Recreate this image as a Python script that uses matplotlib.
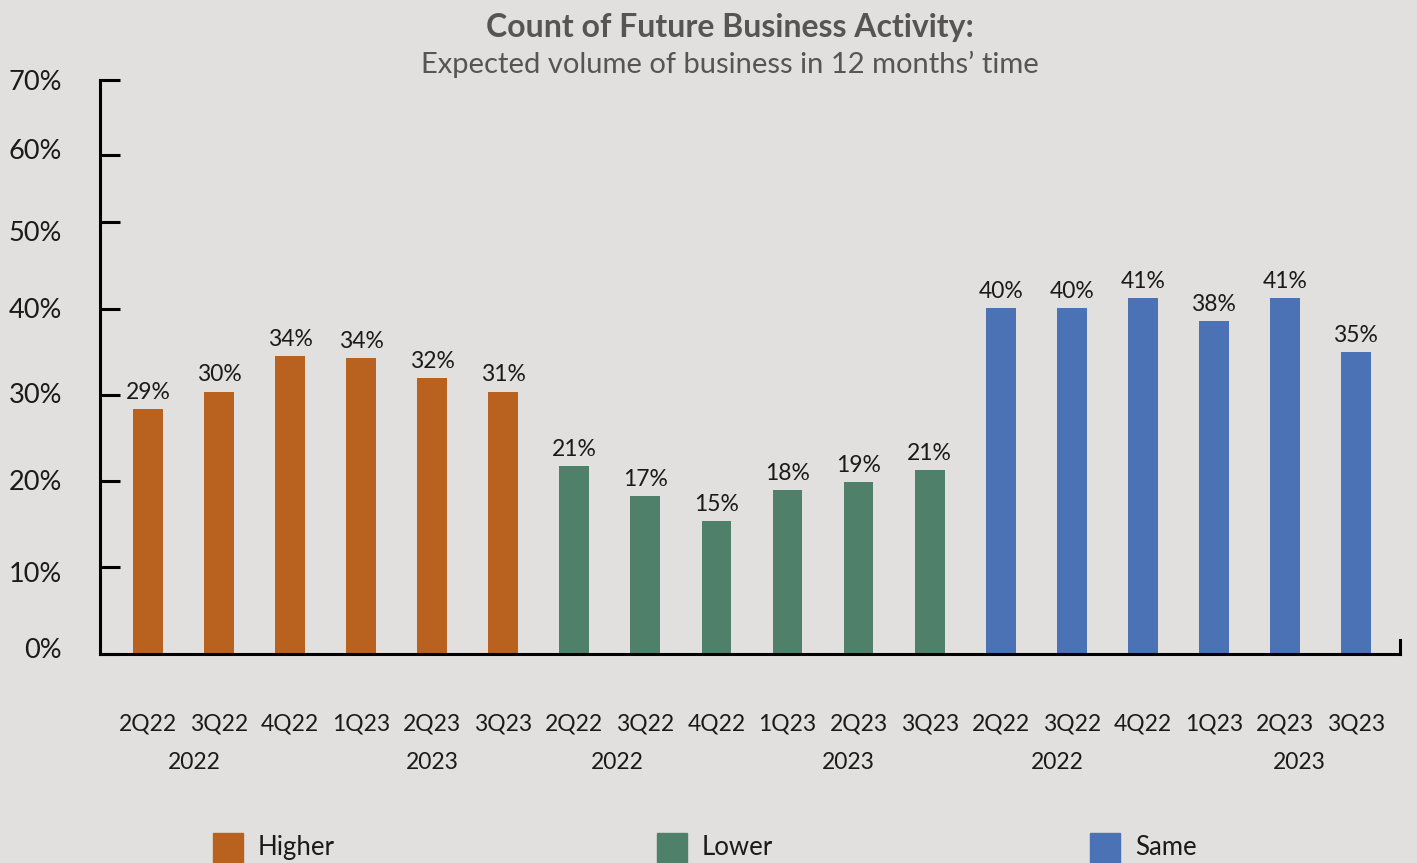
import matplotlib.pyplot as plt
from matplotlib.patches import Rectangle

# bar heights (percent), and the printed labels
higher = [28.4, 30.4, 34.5, 34.3, 32.0, 30.4]
lower = [21.8, 18.3, 15.4, 19.0, 19.9, 21.3]
same = [40.1, 40.1, 41.25, 38.6, 41.25, 35.0]
higher_lbl = ['29%', '30%', '34%', '34%', '32%', '31%']
lower_lbl = ['21%', '17%', '15%', '18%', '19%', '21%']
same_lbl = ['40%', '40%', '41%', '38%', '41%', '35%']

quarters = ['2Q22', '3Q22', '4Q22', '1Q23', '2Q23', '3Q23']
years = ['2022', '2023']
year_pos = [0.65, 4.0, 6.6, 9.85, 12.8, 16.2]

# the source axis is not evenly spaced at the top
ytick_pos = [0, 10.08, 20.05, 30.0, 40.0, 50.1, 57.9, 66.6]
ylabel_pos = [0.46, 9.2, 19.9, 30.0, 39.8, 48.8, 58.2, 66.2]
ytick_lbl = ['0%', '10%', '20%', '30%', '40%', '50%', '60%', '70%']

series = ['Higher', 'Lower', 'Same']
colors = ['#b9621f', '#4f816a', '#4a72b5']
bg = '#e1e0de'

plt.rcParams['font.family'] = ['Lato', 'DejaVu Sans']

fig = plt.figure(figsize=(14.17, 8.63), dpi=100, facecolor=bg)
ax = fig.add_axes([100 / 1417, 1 - 654 / 863, 1300 / 1417, 574.5 / 863])
ax.set_facecolor(bg)

vals = [higher, lower, same]
lbls = [higher_lbl, lower_lbl, same_lbl]
xs = []
for g in range(3):
    x = [g * 6 + i for i in range(6)]
    xs += x
    bars = ax.bar(x, vals[g], width=0.42, color=colors[g], zorder=2)
    for b, t in zip(bars, lbls[g]):
        ax.annotate(t, (b.get_x() + b.get_width() / 2, b.get_height()),
                    xytext=(0, 7.5), textcoords='offset points',
                    ha='center', va='baseline', fontsize=16.5, color='#1a1a1a')

ax.set_xlim(-0.675, 17.62)
ax.set_ylim(0, 66.6)

ax.set_xticks(xs, quarters * 3, fontsize=16.5, color='#1a1a1a')
ax.tick_params(axis='x', length=0, pad=43)
for i, p in enumerate(year_pos):
    ax.text(p, -0.188, years[i % 2], transform=ax.get_xaxis_transform(),
            ha='center', va='center', fontsize=16.5, color='#1a1a1a')

ax.set_yticks(ytick_pos, [''] * len(ytick_pos))
ax.tick_params(axis='y', direction='in', length=14.5, width=2.2, color='black')
for p, t in zip(ylabel_pos, ytick_lbl):
    ax.text(-38 / 1300, p, t, transform=ax.get_yaxis_transform(),
            ha='right', va='center', fontsize=19.5, color='#1a1a1a')

for s in ['left', 'bottom', 'right']:
    ax.spines[s].set_linewidth(2.2)
    ax.spines[s].set_color('black')
ax.spines['top'].set_visible(False)
ax.spines['right'].set_bounds(0, 1.6)
ax.spines['left'].set_bounds(0, 66.6)

fig.text(730 / 1417, 1 - 27 / 863, 'Count of Future Business Activity:',
         ha='center', va='center', fontsize=23, fontweight='bold', color='#555555')
fig.text(730 / 1417, 1 - 64 / 863, 'Expected volume of business in 12 months\u2019 time',
         ha='center', va='center', fontsize=21, color='#555555')

# legend along the bottom edge
leg_x = [213, 657, 1090]
for lx, name, c in zip(leg_x, series, colors):
    fig.patches.append(Rectangle((lx / 1417, 0), 30 / 1417, 30 / 863,
                                 transform=fig.transFigure, color=c))
    fig.text((lx + 45) / 1417, 1 - 847 / 863, name, ha='left', va='center',
             fontsize=18.5, color='#1a1a1a')

fig.savefig('out.png', dpi=100, facecolor=bg)
